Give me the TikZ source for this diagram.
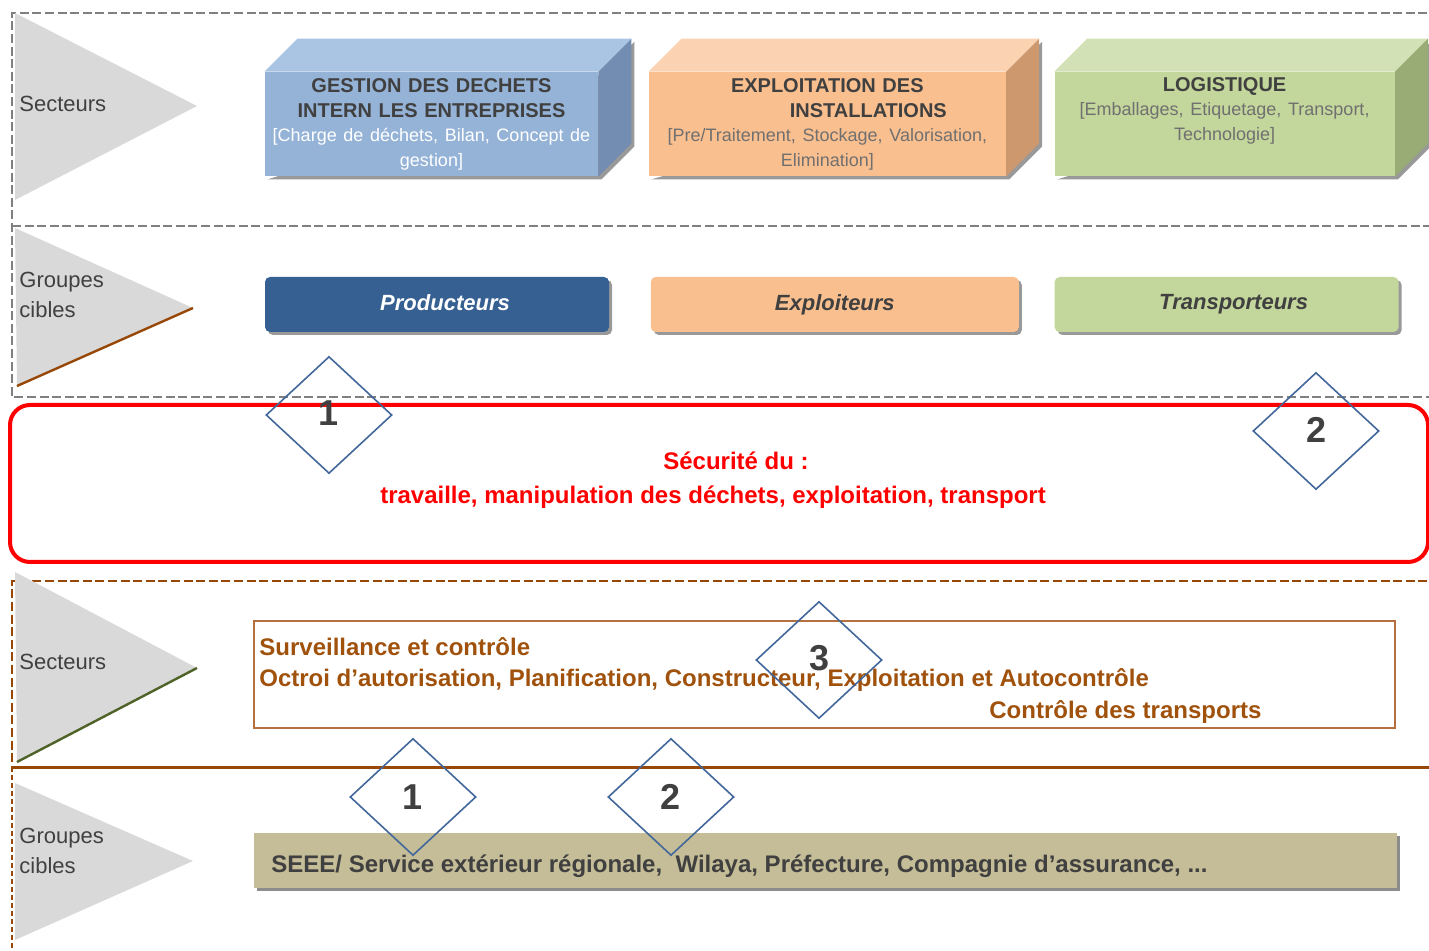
\documentclass[tikz,border=0pt]{standalone}
\usepackage{fontspec}
\setmainfont{Liberation Sans}
\usetikzlibrary{calc,positioning,shapes.geometric,shadows}
\pgfdeclarelayer{back}
\pgfsetlayers{back,main}

\definecolor{gestfront}{RGB}{149,179,215}
\definecolor{gesttop}{RGB}{170,196,228}
\definecolor{gestside}{RGB}{114,140,178}
\definecolor{explfront}{RGB}{250,191,143}
\definecolor{expltop}{RGB}{251,211,178}
\definecolor{explside}{RGB}{206,152,110}
\definecolor{logifront}{RGB}{195,214,155}
\definecolor{logitop}{RGB}{210,225,182}
\definecolor{logiside}{RGB}{154,172,118}
\definecolor{prodfill}{RGB}{54,96,146}
\definecolor{brun}{RGB}{152,72,6}
\definecolor{bruntxt}{RGB}{160,82,12}
\definecolor{brunframe}{RGB}{180,112,62}
\definecolor{tanfill}{RGB}{196,189,151}
\definecolor{losblue}{RGB}{66,103,155}
\definecolor{textdark}{RGB}{64,64,64}
\definecolor{textgris}{RGB}{112,112,112}
\definecolor{trigris}{RGB}{217,217,217}
\definecolor{vertligne}{RGB}{79,98,40}

\begin{document}
\begin{tikzpicture}[
        x=0.5pt, y=-0.5pt,
        every node/.append style={inner sep=0pt},
        front/.style={minimum height=52pt, align=center, text=textdark,
            font=\fontsize{10}{12.5}\selectfont},
        cible/.style={rounded corners=2.5pt, minimum height=27.5pt,
            font=\fontsize{11}{13}\selectfont\bfseries\itshape,
            drop shadow={shadow xshift=1.5pt, shadow yshift=-1.5pt, fill=black!40, opacity=1}},
        losange/.style={diamond, draw=losblue, line width=0.8pt, minimum width=63pt,
            minimum height=58.5pt, text=textdark, font=\fontsize{18}{18}\selectfont\bfseries},
        dashgris/.style={draw=gray, line width=1.3pt, dash pattern=on 4.5pt off 1.8pt},
        dashbrun/.style={draw=brun, line width=1.3pt, dash pattern=on 4.5pt off 1.8pt},
        etiq/.style={anchor=west, align=left, text=textdark, font=\fontsize{11}{15}\selectfont},
        survtxt/.style={anchor=west, text=bruntxt, font=\fontsize{12}{14}\selectfont\bfseries}
    ]
    \useasboundingbox (0,0) rectangle (1429,951);

    % cadres en pointilles
    \draw[dashgris] (1440,13) -- (12,13) -- (12,397) -- (1440,397);
    \draw[dashgris] (12,226) -- (1440,226);
    \draw[dashbrun] (1440,581) -- (12,581) -- (12,767);
    \draw[brun, line width=0.8pt, dash pattern=on 2.5pt off 1.5pt] (12,767) -- (12,951);
    \draw[brun, line width=1.5pt] (12,767) -- (1440,767);

    % fleches de gauche
    \fill[trigris] (15,13) -- (197,106) -- (15,200) -- cycle;
    \fill[trigris] (15,228) -- (193,308) -- (17,386) -- cycle;
    \draw[brun, line width=1.2pt] (17,386) -- (193,308);
    \fill[trigris] (15,572) -- (197,668) -- (17,762) -- cycle;
    \draw[vertligne, line width=1.2pt] (17,762) -- (197,668);
    \fill[trigris] (15,783) -- (193,861) -- (15,940) -- cycle;

    \node (sect1) [etiq] at (19,104) {Secteurs};
    \node (grp1)  [etiq] at (19,295) {Groupes\\cibles};
    \node (sect2) [etiq] at (19,662) {Secteurs};
    \node (grp2)  [etiq] at (19,851) {Groupes\\cibles};

    % secteurs (blocs)
    \node (gest) [front, fill=gestfront, minimum width=166.5pt, text width=164pt] at (431.5,124)
        {\textbf{GESTION DES DECHETS}\\ \textbf{INTERN LES ENTREPRISES}\\
         {\fontsize{9}{12}\selectfont\color{white}[Charge de déchets, Bilan, Concept de\\ gestion]}};
    \node (expl) [front, fill=explfront, minimum width=178.5pt, text width=176pt, right=25pt of gest]
        {\textbf{EXPLOITATION DES}\\ \hspace*{41pt}\textbf{INSTALLATIONS}\\
         {\fontsize{9}{12}\selectfont\color{textgris}[Pre/Traitement, Stockage, Valorisation,\\ Elimination]}};
    \node (logi) [front, fill=logifront, minimum width=170pt, text width=168pt, right=24pt of expl]
        {\textbf{LOGISTIQUE}\\
         {\fontsize{9}{12}\selectfont\color{textgris}[Emballages, Etiquetage, Transport,\\ Technologie]}\\[2pt]\mbox{}};

    \foreach \n/\ct/\cs in {gest/gesttop/gestside, expl/expltop/explside, logi/logitop/logiside} {
        \begin{pgfonlayer}{back}
            \fill[black!40] ($(\n.south west)+(3,3)$) -- ($(\n.south east)+(3,3)$)
                -- ($(\n.south east)+(36,-30)$) -- ($(\n.north east)+(36,-30)$)
                -- ($(\n.north east)+(3,3)$) -- cycle;
        \end{pgfonlayer}
        \fill[\ct] (\n.north west) -- ++(33,-33) -- ($(\n.north east)+(33,-33)$) -- (\n.north east) -- cycle;
        \fill[\cs] (\n.south east) -- (\n.north east) -- ++(33,-33) -- ($(\n.south east)+(33,-33)$) -- cycle;
    }

    % groupes cibles
    \node (prod)    [cible, fill=prodfill, text=white, minimum width=172pt] at (437,304.5)
        {\hspace*{8pt}\raisebox{2pt}{Producteurs}};
    \node (exploit) [cible, fill=explfront, text=textdark, minimum width=184pt, right=20.5pt of prod]
        {\raisebox{1pt}{Exploiteurs}};
    \node (trans)   [cible, fill=logifront, text=textdark, minimum width=172pt, right=17.5pt of exploit]
        {\hspace*{7pt}\raisebox{1pt}{Transporteurs}};

    % securite
    \node (secu) [draw=red, line width=2pt, rounded corners=10pt, minimum width=709pt,
        minimum height=78.5pt] at (719,483.5) {};
    \node (secutxt) [align=center, text=red, font=\fontsize{12}{17}\selectfont\bfseries] at (713,480)
        {\hspace*{23pt}Sécurité du :\\ travaille, manipulation des déchets, exploitation, transport};

    % surveillance
    \node (surv) [draw=brunframe, line width=0.8pt, minimum width=570.5pt, minimum height=53.5pt] at (824.5,674.5) {};
    \node (surv1) [survtxt] at (259,647) {Surveillance et contrôle};
    \node (surv2) [survtxt] at (259,680) {Octroi d’autorisation, Planification, Constructeur, Exploitation et Autocontrôle};
    \node (surv3) [survtxt] at (989,712) {Contrôle des transports};

    \node (seee) [fill=tanfill, minimum width=571.5pt, minimum height=27.5pt,
        drop shadow={shadow xshift=1.5pt, shadow yshift=-1.5pt, fill=black!45, opacity=1}] at (825.5,860.5) {};
    \node (seeetxt) [anchor=west, text=textdark, font=\fontsize{12}{14}\selectfont\bfseries] at (271,866)
        {SEEE/ Service extérieur régionale, \ Wilaya, Préfecture, Compagnie d’assurance, ...};

    % losanges
    \node (d1) [losange] at (329,415) {\raisebox{2pt}{1}};
    \node (d2) [losange] at (1316,431) {\raisebox{1pt}{2}};
    \node (d3) [losange] at (819,660) {\raisebox{2pt}{3}};
    \node (d4) [losange] at (413,797) {1};
    \node (d5) [losange] at (671,797) {2};
\end{tikzpicture}
\end{document}
